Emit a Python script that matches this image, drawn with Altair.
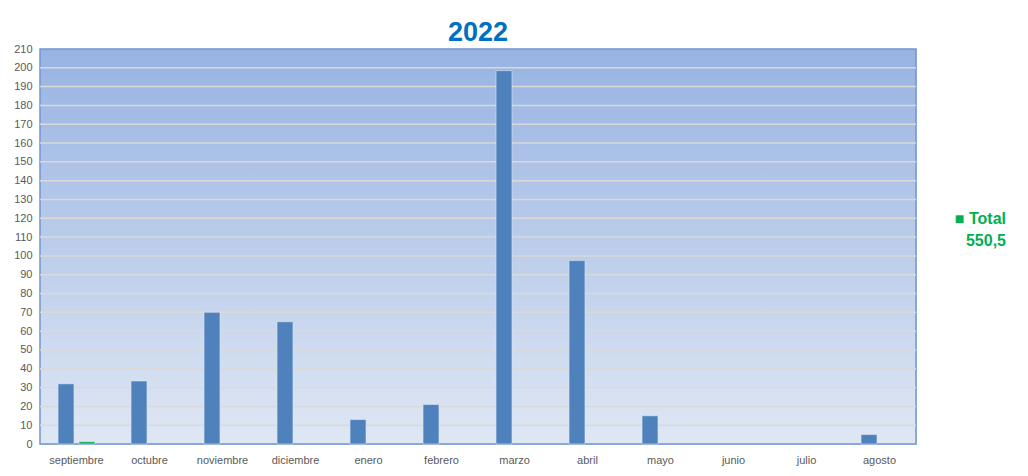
import altair as alt
import pandas as pd

meses = ["septiembre", "octubre", "noviembre", "diciembre", "enero", "febrero",
         "marzo", "abril", "mayo", "junio", "julio", "agosto"]
valores = [32, 33.5, 70, 65, 13, 21, 198.5, 97.5, 15, 0, 0, 5]
serie_total_mes = ["septiembre"]
serie_total_val = [1.2]
ticks_y = list(range(0, 211, 10))

total = sum(valores)
total_txt = f"{total:.1f}".replace(".", ",")

rows = []
for m, v in zip(meses, valores):
    rows.append({"mes": m, "serie": "Mes", "valor": v})
for m, v in zip(serie_total_mes, serie_total_val):
    rows.append({"mes": m, "serie": "Total", "valor": v})
df = pd.DataFrame(rows)

W, H = 876, 395
yscale = alt.Scale(domain=[0, 210])

grad = alt.LinearGradient(
    gradient="linear", x1=0, x2=0, y1=0, y2=1,
    stops=[alt.GradientStop(color="#98b3e2", offset=0),
           alt.GradientStop(color="#dfe7f4", offset=1)],
)

yaxis = alt.Axis(values=ticks_y, grid=False, domain=False, ticks=False, labelFontSize=11,
                 labelColor="#595959", labelFont="Liberation Sans", labelPadding=8,
                 title=None)

bg = alt.Chart(pd.DataFrame({"a": [0], "b": [210]})).mark_rect(
    color=grad, stroke="#6f97d0", strokeWidth=1.5
).encode(
    y=alt.Y("b:Q", scale=yscale, axis=yaxis),
    y2="a:Q",
)

grid = alt.Chart(pd.DataFrame({"v": ticks_y[1:-1]})).mark_rule(
    color="#d9d9d9", strokeWidth=1.5
).encode(y=alt.Y("v:Q", scale=yscale, axis=yaxis))

bars = alt.Chart(df).transform_filter("datum.valor > 0").mark_bar(
    stroke="#dce6f2", strokeWidth=0.6
).encode(
    x=alt.X("mes:N", sort=meses,
            scale=alt.Scale(domain=meses, paddingInner=0, paddingOuter=0),
            axis=alt.Axis(title=None, labelAngle=0, labelFontSize=11, labelColor="#595959",
                          labelFont="Liberation Sans", ticks=False, domainColor="#d9d9d9",
                          labelPadding=10)),
    xOffset=alt.XOffset("serie:N",
                        scale=alt.Scale(domain=["Mes", "Total"], paddingInner=0.24,
                                        paddingOuter=0.86)),
    y=alt.Y("valor:Q", scale=yscale, axis=yaxis),
    color=alt.Color("serie:N", scale=alt.Scale(domain=["Mes", "Total"],
                                                range=["#4f81bd", "#00b050"]),
                    legend=None),
)

leg1 = alt.Chart(pd.DataFrame({"t": ["■ Total"]})).mark_text(
    align="right", baseline="middle", fontSize=16, fontWeight="bold",
    color="#00b050", font="Liberation Sans"
).encode(text="t:N", x=alt.value(W + 90), y=alt.value(170))

leg2 = alt.Chart(pd.DataFrame({"t": [total_txt]})).mark_text(
    align="right", baseline="middle", fontSize=16, fontWeight="bold",
    color="#00b050", font="Liberation Sans"
).encode(text="t:N", x=alt.value(W + 90), y=alt.value(192))

chart = alt.layer(bg, grid, bars, leg1, leg2).properties(
    width=W, height=H,
    title=alt.Title("2022", fontSize=27, fontWeight="bold", color="#0070c0",
                    font="Liberation Sans", anchor="middle", offset=2, dy=6),
    autosize=alt.AutoSizeParams(type="none"),
    padding={"left": 32, "top": 41, "right": 104, "bottom": 22},
).configure_view(stroke=None).configure(background="white")

chart.save("out.html", embed_options={"renderer": "svg", "actions": False})
